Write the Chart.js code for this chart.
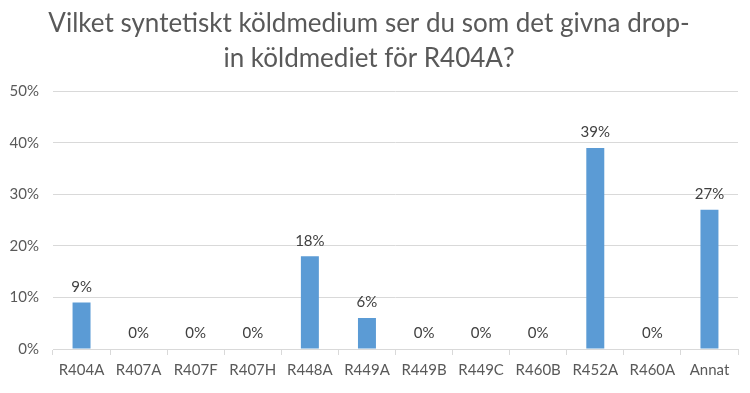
<!DOCTYPE html>
<html>
<head>
<meta charset="utf-8">
<script src="https://cdn.jsdelivr.net/npm/chart.js"></script>
<style>
body { margin: 0; background: #fff; }
#wrap { width: 750px; height: 393px; }
</style>
</head>
<body>
<div id="wrap"><canvas id="chart"></canvas></div>
<script>
const categories = ["R404A", "R407A", "R407F", "R407H", "R448A", "R449A", "R449B", "R449C", "R460B", "R452A", "R460A", "Annat"];
const values = [9, 0, 0, 0, 18, 6, 0, 0, 0, 39, 0, 27];
const yTicks = [0, 10, 20, 30, 40, 50];

const textColor = "#595959";
const gridColor = "#d9d9d9";

// labels above the bars
const barLabels = {
  id: "barLabels",
  afterDatasetsDraw(chart) {
    const ctx = chart.ctx;
    const meta = chart.getDatasetMeta(0);
    ctx.save();
    ctx.font = "15px Lato";
    ctx.fillStyle = "#404040";
    ctx.textAlign = "center";
    ctx.textBaseline = "bottom";
    meta.data.forEach((bar, i) => {
      ctx.fillText(values[i] + "%", bar.x, bar.y - 8);
    });
    ctx.restore();
  }
};

new Chart("chart", {
  type: "bar",
  data: {
    labels: categories,
    datasets: [{
      data: values,
      backgroundColor: "#5b9bd5",
      barPercentage: 0.63,
      categoryPercentage: 0.5
    }]
  },
  options: {
    responsive: true,
    maintainAspectRatio: false,
    animation: false,
    layout: { padding: { left: 0, right: 12, bottom: 8 } },
    plugins: {
      legend: { display: false },
      tooltip: { enabled: false },
      title: {
        display: true,
        text: ["Vilket syntetiskt köldmedium ser du som det givna drop-", "in köldmediet för R404A?"],
        color: textColor,
        font: { family: "Lato", size: 26, weight: "normal", lineHeight: 1.35 },
        padding: { top: 6, bottom: 15 }
      }
    },
    scales: {
      x: {
        offset: true,
        grid: { display: true, drawOnChartArea: false, color: gridColor, tickLength: 6, offset: true },
        border: { color: gridColor },
        ticks: { color: textColor, font: { family: "Lato", size: 15 }, padding: 6, maxRotation: 0 }
      },
      y: {
        min: 0,
        max: 50,
        afterBuildTicks(scale) { scale.ticks = yTicks.map(v => ({ value: v })); },
        afterFit(scale) { scale.width = 53; },
        grid: { color: gridColor, drawTicks: false },
        border: { display: false },
        ticks: { color: textColor, font: { family: "Lato", size: 15 }, padding: 14, callback: v => v + "%" }
      }
    }
  },
  plugins: [barLabels]
});
</script>
</body>
</html>
